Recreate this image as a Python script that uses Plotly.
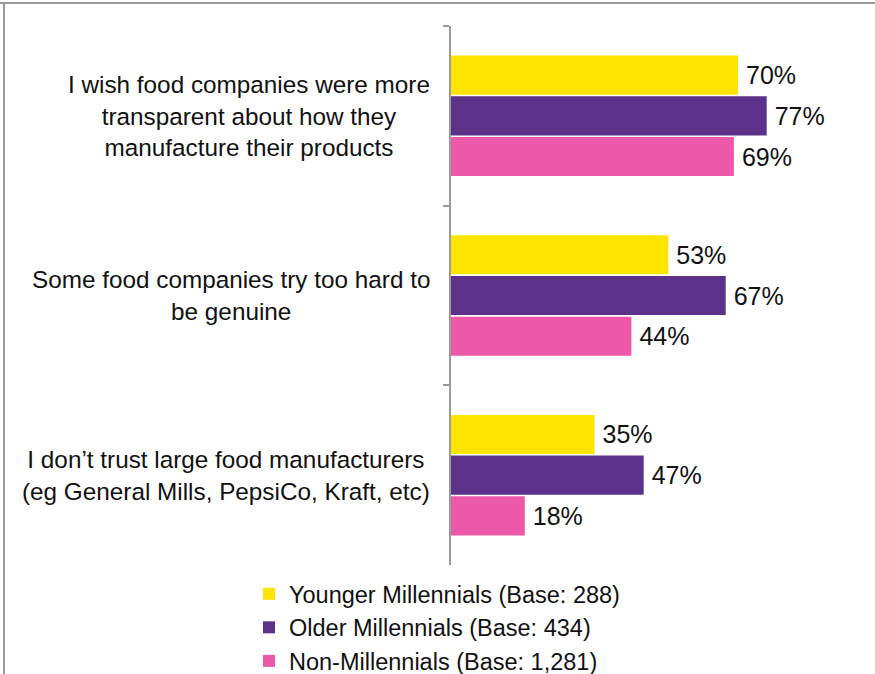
import plotly.graph_objects as go

categories = [
    "I wish food companies were more<br>transparent about how they<br>manufacture their products",
    "Some food companies try too hard to<br>be genuine",
    "I don\u2019t trust large food manufacturers<br>(eg General Mills, PepsiCo, Kraft, etc)",
]
series_names = [
    "Younger Millennials (Base: 288)",
    "Older Millennials (Base: 434)",
    "Non-Millennials (Base: 1,281)",
]
younger = [70, 53, 35]
older = [77, 67, 47]
non_mill = [69, 44, 18]
colors = ["#FFE400", "#5C3189", "#EC59A8"]

FONT = "Liberation Sans, Arial, sans-serif"
TXT = "#111111"

fig = go.Figure()
for name, vals, col in zip(series_names, [younger, older, non_mill], colors):
    fig.add_trace(go.Bar(
        y=categories, x=vals, name=name, orientation="h",
        marker=dict(color=col, line=dict(width=0)),
        texttemplate="\u2009%{x}%", textposition="outside",
        textfont=dict(size=25, color=TXT, family=FONT),
        constraintext="none", cliponaxis=False,
        legendgroup=name,
    ))

L, R, T, B = 451, 14, 26, 109
W, H = 875, 674
pw, ph = W - L - R, H - T - B


def px(x):
    return (x - L) / pw


def py(y):
    return (H - B - y) / ph


annotations = []
for c in categories:
    annotations.append(dict(
        x=px(432), xref="paper", y=c, yref="y",
        text=c, showarrow=False, xanchor="right", yanchor="middle",
        align="center", font=dict(size=24.3, color=TXT, family=FONT),
    ))

shapes = [
    dict(type="line", xref="paper", yref="paper", x0=px(0), x1=px(W), y0=py(3), y1=py(3),
         line=dict(color="#9a9a9a", width=2)),
    dict(type="line", xref="paper", yref="paper", x0=px(4), x1=px(4), y0=py(3), y1=py(H),
         line=dict(color="#9a9a9a", width=2)),
]

fig.update_layout(
    width=W, height=H,
    margin=dict(l=L, r=R, t=T, b=B, autoexpand=False),
    paper_bgcolor="white", plot_bgcolor="white",
    barmode="group", bargap=0.32, bargroupgap=0.04,
    font=dict(family=FONT, size=24, color=TXT),
    xaxis=dict(range=[0, 100], visible=False, fixedrange=True),
    yaxis=dict(
        type="category", range=[2.5, -0.5], showticklabels=False,
        tickson="boundaries", ticks="outside", ticklen=6, tickcolor="#9a9a9a", tickwidth=1.5,
        showline=True, linecolor="#9a9a9a", linewidth=1.5, showgrid=False, zeroline=False,
    ),
    legend=dict(
        x=px(249), y=py(572), xanchor="left", yanchor="top",
        orientation="v", traceorder="normal", tracegroupgap=4,
        font=dict(size=23.5, color=TXT, family=FONT), itemwidth=30,
        bgcolor="rgba(0,0,0,0)",
    ),
    annotations=annotations,
    shapes=shapes,
    showlegend=True,
)

fig.write_html("out.html")
